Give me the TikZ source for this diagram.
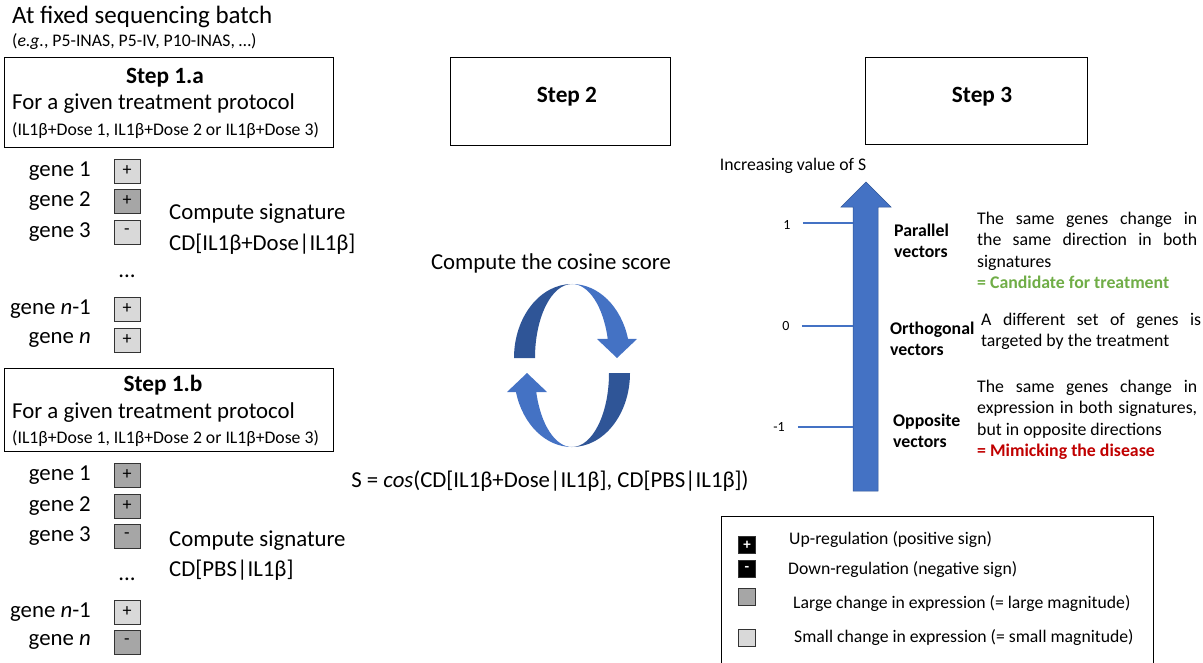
\documentclass[tikz,border=0pt]{standalone}
\usepackage{fontspec}
\setmainfont{Carlito}
\usepackage{tikz}

\definecolor{lightgrey}{HTML}{D9D9D9}
\definecolor{darkgrey}{HTML}{A6A6A6}
\definecolor{arrowblue}{HTML}{4472C4}
\definecolor{arrowdark}{HTML}{2F5597}
\definecolor{candgreen}{HTML}{70AD47}
\definecolor{diseasered}{HTML}{C00000}

\tikzset{
  head/.style={font=\fontsize{25}{30}\selectfont, inner sep=0pt},
  big/.style={font=\fontsize{22.8}{27}\selectfont, inner sep=0pt},
  mid/.style={font=\fontsize{17.8}{21.4}\selectfont, inner sep=0pt},
  small/.style={font=\fontsize{17.7}{21}\selectfont, inner sep=0pt},
  tiny/.style={font=\fontsize{14}{16}\selectfont, inner sep=0pt},
  stepbox/.style={draw, line width=1pt, inner sep=0pt},
  steptitle/.style={font=\fontsize{23.3}{27}\selectfont\bfseries, inner sep=0pt},
  genebox/.style={draw=black!80, line width=1pt, minimum width=26pt, minimum height=24pt, inner sep=0pt, font=\fontsize{18}{20}\selectfont},
  keybox/.style={draw=black!80, line width=1pt, minimum size=17pt, inner sep=0pt, font=\fontsize{15}{16}\selectfont\bfseries},
  desc/.style={mid, text width=220pt, align=justify, anchor=north west},
  vlabel/.style={mid, font=\fontsize{17.8}{21.4}\selectfont\bfseries, align=left, anchor=west},
}

\begin{document}
\begin{tikzpicture}[x=1pt,y=-1pt]

\useasboundingbox (0,0) rectangle (1203,662);

\node [head, anchor=west] (batch) at (12,17) {At fixed sequencing batch};
\node [small, anchor=west] (batchex) at (12,42) {(\textit{e.g.}, P5-INAS, P5-IV, P10-INAS, …)};

% step 1.a
\node [stepbox, minimum width=329pt, minimum height=90pt] (stepa) at (168.5,102) {};
\node [steptitle] (stepatitle) at (165,78) {Step 1.a};
\node [big, anchor=west] (stepaprot) at (12,104) {For a given treatment protocol};
\node [small, anchor=west] (stepadose) at (12,131) {(IL1β+Dose 1, IL1β+Dose 2 or IL1β+Dose 3)};

\node [big, anchor=east] (ga1) at (91,171) {gene 1};
\node [big, anchor=east] (ga2) at (91,201) {gene 2};
\node [big, anchor=east] (ga3) at (91,232) {gene 3};
\node [big] (gadots) at (127,276) {...};
\node [big, anchor=east] (ga4) at (91,309) {gene \textit{n}-1};
\node [big, anchor=east] (ga5) at (91,340) {gene \textit{n}};

\node [genebox, fill=lightgrey] (sa1) at (127,171) {+};
\node [genebox, fill=darkgrey] (sa2) at (127,201) {+};
\node [genebox, fill=lightgrey] (sa3) at (127,232) {-};
\node [genebox, fill=lightgrey] (sa4) at (127,309) {+};
\node [genebox, fill=lightgrey] (sa5) at (127,340) {+};

\node [big, anchor=west] (siga1) at (169,214) {Compute signature};
\node [big, anchor=west] (siga2) at (169,244) {CD[IL1β+Dose|IL1β]};

% step 1.b
\node [stepbox, minimum width=329pt, minimum height=83pt] (stepb) at (168.5,409.5) {};
\node [steptitle] (stepbtitle) at (163,385) {Step 1.b};
\node [big, anchor=west] (stepbprot) at (12,413) {For a given treatment protocol};
\node [small, anchor=west] (stepbdose) at (12,439) {(IL1β+Dose 1, IL1β+Dose 2 or IL1β+Dose 3)};

\node [big, anchor=east] (gb1) at (91,475) {gene 1};
\node [big, anchor=east] (gb2) at (91,506) {gene 2};
\node [big, anchor=east] (gb3) at (91,536) {gene 3};
\node [big] (gbdots) at (127,579) {...};
\node [big, anchor=east] (gb4) at (91,612) {gene \textit{n}-1};
\node [big, anchor=east] (gb5) at (91,642) {gene \textit{n}};

\node [genebox, fill=darkgrey] (sb1) at (127,475) {+};
\node [genebox, fill=darkgrey] (sb2) at (127,506) {+};
\node [genebox, fill=darkgrey] (sb3) at (127,536) {-};
\node [genebox, fill=lightgrey] (sb4) at (127,612) {+};
\node [genebox, fill=darkgrey] (sb5) at (127,642) {-};

\node [big, anchor=west] (sigb1) at (169,541) {Compute signature};
\node [big, anchor=west] (sigb2) at (169,570) {CD[PBS|IL1β]};

% step 2
\node [stepbox, minimum width=220pt, minimum height=88pt] (steptwo) at (560,101) {};
\node [steptitle] (steptwotitle) at (567,97) {Step 2};
\node [big] (cosine) at (551,263) {Compute the cosine score};

\foreach \r in {0,180}{
\begin{scope}[rotate around={\r:(572,365.5)}]
\fill [arrowdark]
(514,358)
arc [start angle=180, end angle=270, x radius=58, y radius=74]
arc [start angle=270, end angle=180, x radius=37, y radius=74]
-- cycle;
\fill [arrowblue]
(572,284)
arc [start angle=270, end angle=345, x radius=58, y radius=74]
--(637,339)
--(617,358)
--(597,339)
--(607.7,338.8)
arc [start angle=345, end angle=270, x radius=37, y radius=74]
-- cycle;
\end{scope}
}

\node [big] (score) at (550,481) {S = \textit{cos}(CD[IL1β+Dose|IL1β], CD[PBS|IL1β])};

% step 3
\node [stepbox, minimum width=222pt, minimum height=87pt] (stepthree) at (976,101) {};
\node [steptitle] (stepthreetitle) at (982,97) {Step 3};
\node [small] (increase) at (793,166) {Increasing value of S};

\coordinate (A) at (853,491);
\coordinate (B) at (853,207);
\coordinate (C) at (841,207);
\coordinate (D) at (866,182);
\coordinate (E) at (891,207);
\coordinate (F) at (878,207);
\coordinate (G) at (878,491);

\draw [fill=arrowblue, draw=arrowdark, line width=0.5pt]
(A)
--(B)
--(C)
--(D)
--(E)
--(F)
--(G)
--cycle;

\node [tiny] (one) at (787,225) {1};
\node [tiny] (zero) at (786,326) {0};
\node [tiny] (minusone) at (779,427) {-1};
\coordinate (t1) at (853,223);
\coordinate (t0) at (853,326);
\coordinate (tm) at (853,427);
\draw [arrowblue, line width=1.2pt] (one.east) ++(12,-2) -- (t1);
\draw [arrowblue, line width=1.2pt] (zero.east) ++(12,0) -- (t0);
\draw [arrowblue, line width=1.2pt] (minusone.east) ++(13,0) -- (tm);

\node [vlabel] (parallel) at (894,241) {Parallel\\vectors};
\node [vlabel] (orthogonal) at (890,339) {Orthogonal\\vectors};
\node [vlabel] (opposite) at (893,431) {Opposite\\vectors};

\node [desc] (pardesc) at (977,212) {The same genes change in\linebreak the same direction in both\linebreak signatures\par\textcolor{candgreen}{\bfseries = Candidate for treatment}};
\node [desc] (orthdesc) at (981,313) {A different set of genes is\linebreak targeted by the treatment};
\node [desc] (oppdesc) at (977,380) {The same genes change in\linebreak expression in both signatures,\linebreak but in opposite directions\par\textcolor{diseasered}{\bfseries = Mimicking the disease}};

% legend
\draw [line width=0.8pt] (721,516) rectangle (1153,680);
\node [keybox, fill=black, text=white] (kup) at (747,545) {+};
\node [keybox, fill=black, text=white] (kdown) at (747,569) {-};
\node [keybox, fill=darkgrey] (klarge) at (747,597) {};
\node [keybox, fill=lightgrey] (ksmall) at (747,638) {};
\node [small, anchor=west] (lup) at (789,540) {Up-regulation (positive sign)};
\node [small, anchor=west] (ldown) at (788,570) {Down-regulation (negative sign)};
\node [small, anchor=west] (llarge) at (793,604) {Large change in expression (= large magnitude)};
\node [small, anchor=west] (lsmall) at (794,638) {Small change in expression (= small magnitude)};

\end{tikzpicture}
\end{document}
